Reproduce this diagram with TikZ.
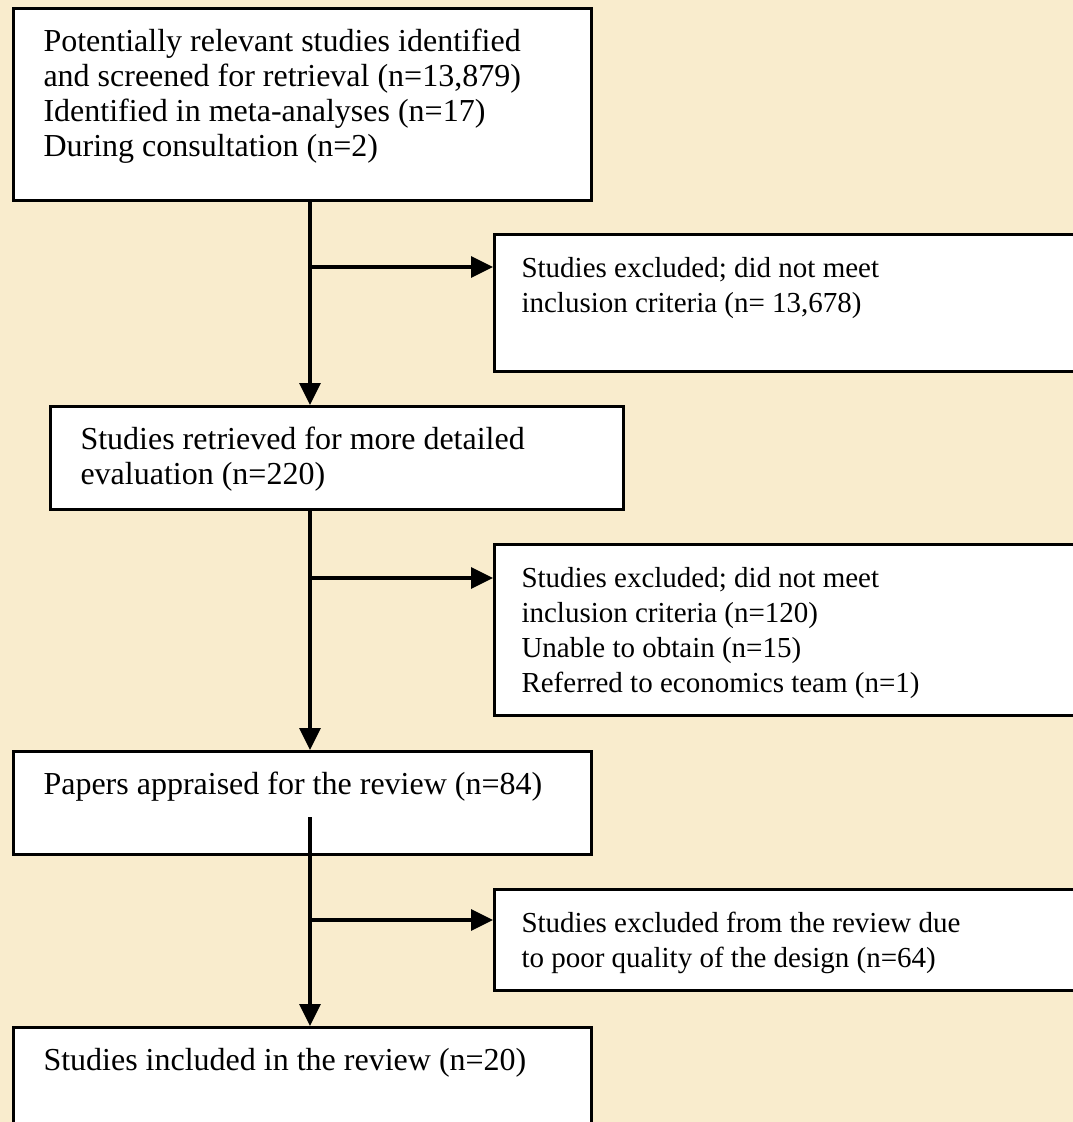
\documentclass[tikz,border=0pt]{standalone}
\usepackage{fontspec}
\setmainfont{Liberation Serif}
\usetikzlibrary{arrows.meta,positioning}
\definecolor{parchment}{RGB}{249,236,205}

\newcommand{\boxtext}[3]{\parbox[t][#1][t]{#2}{\strut #3}}

\begin{document}
\begin{tikzpicture}[
  x=1pt,
  y=-1pt,
  box/.style={
    rectangle,
    draw=black,
    fill=white,
    line width=3pt,
    anchor=north west,
    inner xsep=30pt,
    inner ysep=18.5pt
  },
  mainbox/.style={
    box,
    font=\fontsize{32}{35}\selectfont
  },
  sidebox/.style={
    box,
    inner xsep=27pt,
    font=\fontsize{29}{35}\selectfont
  },
  line/.style={
    line width=3.3pt,
    draw=black,
    -{Triangle[length=22pt,width=21pt]}
  }
]

% Page and background
\useasboundingbox (0,0) rectangle (1073,1122);
\clip (0,0) rectangle (1073,1122);
\fill[parchment] (0,0) rectangle (1073,1122);

% Main column
\node[mainbox] (screened) at (12,7) {\boxtext{155pt}{518pt}{Potentially relevant studies identified\\
  and screened for retrieval (n=13,879)\\
  Identified in meta-analyses (n=17)\\
  During consultation (n=2)}};
\node[mainbox] (retrieved) at (49,405) {\boxtext{66pt}{513pt}{Studies retrieved for more detailed\\
  evaluation (n=220)}};
\node[mainbox] (appraised) at (12,750) {\boxtext{66pt}{518pt}{Papers appraised for the review (n=84)}};
\node[mainbox] (included) at (12,1026) {\boxtext{113pt}{518pt}{Studies included in the review (n=20)}};

% Exclusions on the right
\node[sidebox] (excluded1) at (493,233) {\boxtext{100pt}{566pt}{Studies excluded; did not meet\\
  inclusion criteria (n= 13,678)}};
\node[sidebox] (excluded2) at (493,543) {\boxtext{134pt}{566pt}{Studies excluded; did not meet\\
  inclusion criteria (n=120)\\
  Unable to obtain (n=15)\\
  Referred to economics team (n=1)}};
\node[sidebox] (excluded3) at (493,888) {\boxtext{64pt}{566pt}{Studies excluded from the review due\\
  to poor quality of the design (n=64)}};

% Branch points on the trunk
\coordinate (split1) at (310,267);
\coordinate (split2) at (310,578);
\coordinate (split3) at (310,920);
\coordinate (start3) at (310,817);

% Trunk
\draw[line] (screened.south -| split1) -- (retrieved.north -| split1);
\draw[line] (retrieved.south -| split2) -- (appraised.north -| split2);
\draw[line] (start3) -- (start3 |- included.north);

% Side arrows
\draw[line] (split1) -- (split1 -| excluded1.west);
\draw[line] (split2) -- (split2 -| excluded2.west);
\draw[line] (split3) -- (split3 -| excluded3.west);

\end{tikzpicture}
\end{document}
